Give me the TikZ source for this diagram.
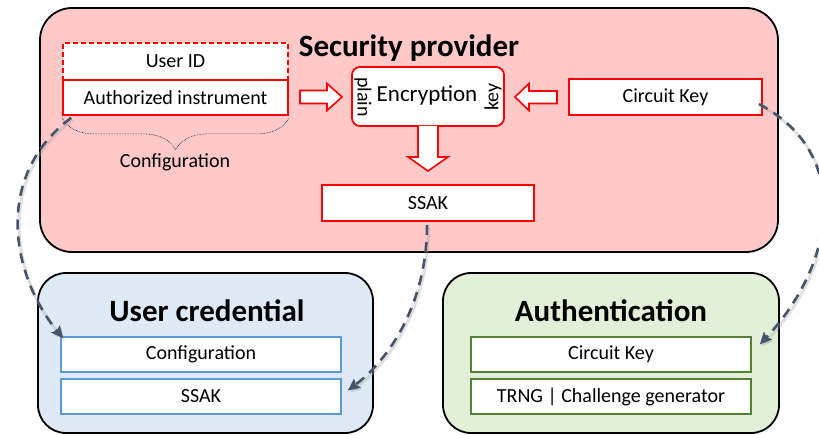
\documentclass[tikz,border=0pt]{standalone}
\usepackage{fontspec}
\setmainfont{Carlito}
\usetikzlibrary{arrows.meta,decorations.pathreplacing,calc}
\definecolor{pinkbg}{HTML}{FFC9C9}
\definecolor{bluebg}{HTML}{DEEBF7}
\definecolor{greenbg}{HTML}{E2F0D9}
\definecolor{bluebd}{HTML}{5B9BD5}
\definecolor{greenbd}{HTML}{548235}
\definecolor{conn}{HTML}{44546A}
\begin{document}
\begin{tikzpicture}[x=1pt,y=-1pt,
  panel/.style={draw=black, line width=1.8pt, rounded corners=32pt},
  box/.style={draw, line width=#1, fill=white, inner sep=0pt, font=\fontsize{20}{22}\selectfont},
  redbox/.style={box=1.8pt, draw=red},
  bluebox/.style={box=1.5pt, draw=bluebd},
  greenbox/.style={box=1.5pt, draw=greenbd},
  title/.style={font=\fontsize{31}{34}\selectfont\bfseries, inner sep=0pt},
  lbl/.style={font=\fontsize{20}{22}\selectfont, inner sep=0pt},
  blockarrow/.style={draw=red, line width=1.6pt, fill=white, line join=miter},
  conn/.style={draw=conn, line width=2.6pt, dash pattern=on 10pt off 7pt,
    -{Stealth[length=12pt,width=11pt,inset=2pt]},
    preaction={draw=black!35, opacity=0.35, line width=3pt, transform canvas={shift={(1.5pt,-2pt)}}}}
]
\useasboundingbox (0,0) rectangle (819,435);

% panels
\filldraw[panel, fill=pinkbg] (40,8) rectangle (778,252);
\filldraw[panel, fill=bluebg, rounded corners=28pt] (38,273) rectangle (373,433);
\filldraw[panel, fill=greenbg, rounded corners=28pt] (443,273) rectangle (779,433);

\node[title] (tsp) at (409,48) {Security provider};
\node[title] (tuc) at (207,311) {User credential};
\node[title] (tau) at (611,311) {Authentication};

% security provider contents
\node[redbox, dash pattern=on 5pt off 3pt, minimum width=225pt, minimum height=37pt] (uid) at (175.5,61.5) {User ID};
\node[redbox, minimum width=225pt, minimum height=35pt] (ai) at (175.5,97.5) {Authorized instrument};
\node[redbox, rounded corners=8pt, minimum width=152pt, minimum height=59pt] (enc) at (428,96.5) {};
\node[lbl, font=\fontsize{23}{25}\selectfont] (enct) at (427,95) {Encryption};
\node[lbl, rotate=-90] (plain) at (363,97) {plain};
\node[lbl, rotate=90] (key) at (493,97) {key};
\node[redbox, minimum width=193pt, minimum height=36pt] (ck) at (665.5,97) {Circuit Key};
\node[redbox, minimum width=212pt, minimum height=36pt] (ssak) at (428,203) {SSAK};

% brace
\draw[densely dotted, line width=0.6pt, decorate, decoration={brace, amplitude=32pt, mirror}]
  ($(ai.south west)+(0,2)$) -- ($(ai.south east)+(0,2)$);
\node[lbl] (cfg) at (175,162) {Configuration};

% block arrows
\draw[blockarrow] (300,90.5) -- (327,90.5) -- (327,83.5) -- (342,97) -- (327,110.5) -- (327,103.5) -- (300,103.5) -- cycle;
\draw[blockarrow] (557,91) -- (529,91) -- (529,83.5) -- (515,97) -- (529,110.5) -- (529,103.5) -- (557,103.5) -- cycle;
\draw[blockarrow] (418,126) -- (418,157) -- (408,157) -- (428,171) -- (448,157) -- (438,157) -- (438,126);

% user credential
\node[bluebox, minimum width=280pt, minimum height=35pt] (ucconf) at (201,354.5) {Configuration};
\node[bluebox, minimum width=280pt, minimum height=35pt] (ucssak) at (201,396.5) {SSAK};

% authentication
\node[greenbox, minimum width=280pt, minimum height=35pt] (auck) at (611,354.5) {Circuit Key};
\node[greenbox, minimum width=280pt, minimum height=35pt] (autr) at (611,396.5) {TRNG | Challenge generator};

% connectors
\draw[conn] ($(ai.south west)+(9,2)$) .. controls +(-80,60) and +(-50,-60) .. ($(ucconf.north west)+(3,2)$);
\draw[conn] ($(ssak.south)+(-1,3)$) .. controls +(0,80) and +(40,-30) .. ($(ucssak.east)+(6,-6)$);
\draw[conn] ($(ck.east)+(-4,7)$) .. controls +(95,50) and +(75,-80) .. ($(auck.east)+(8,-10)$);
\end{tikzpicture}
\end{document}
